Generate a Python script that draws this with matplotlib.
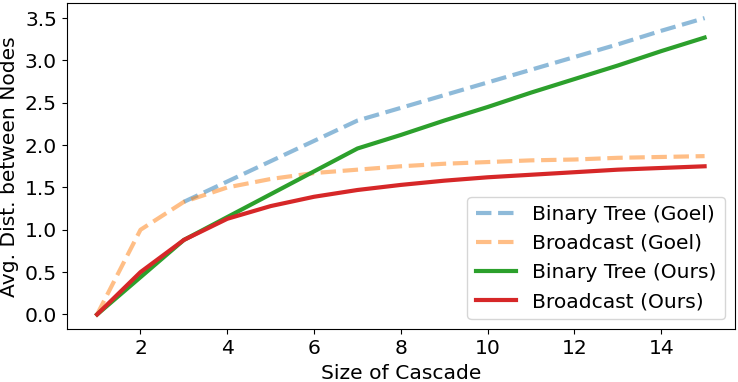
import matplotlib
matplotlib.use("Agg")
import matplotlib.pyplot as plt

size = list(range(1, 16))

# binary tree (Goel) is only visible from size 3 on
bt_goel_size = list(range(3, 16))
bt_goel = [1.33, 1.57, 1.81, 2.05, 2.29, 2.44, 2.59, 2.74, 2.89, 3.04, 3.19, 3.35, 3.50]
bc_goel = [0.0, 1.0, 1.33, 1.50, 1.60, 1.67, 1.71, 1.75, 1.78, 1.80, 1.82, 1.83, 1.85, 1.86, 1.87]
bt_ours = [0.0, 0.44, 0.88, 1.15, 1.42, 1.69, 1.96, 2.12, 2.29, 2.45, 2.62, 2.78, 2.94, 3.11, 3.27]
bc_ours = [0.0, 0.50, 0.88, 1.13, 1.28, 1.39, 1.47, 1.53, 1.58, 1.62, 1.65, 1.68, 1.71, 1.73, 1.75]

plt.rcParams['font.size'] = 14.6

fig = plt.figure(figsize=(7.38, 3.82), dpi=100)
ax = fig.add_axes([0.0904, 0.138, 0.9055, 0.8534])

ax.plot(bt_goel_size, bt_goel, '--', color='tab:blue', alpha=0.5, lw=3, label='Binary Tree (Goel)')
ax.plot(size, bc_goel, '--', color='tab:orange', alpha=0.5, lw=3, label='Broadcast (Goel)')
ax.plot(size, bt_ours, '-', color='tab:green', lw=3, label='Binary Tree (Ours)')
ax.plot(size, bc_ours, '-', color='tab:red', lw=3, label='Broadcast (Ours)')

ax.set_xlabel('Size of Cascade')
ax.set_ylabel('Avg. Dist. between Nodes')
ax.legend(loc='lower right')

fig.savefig('out.png', dpi=100)
